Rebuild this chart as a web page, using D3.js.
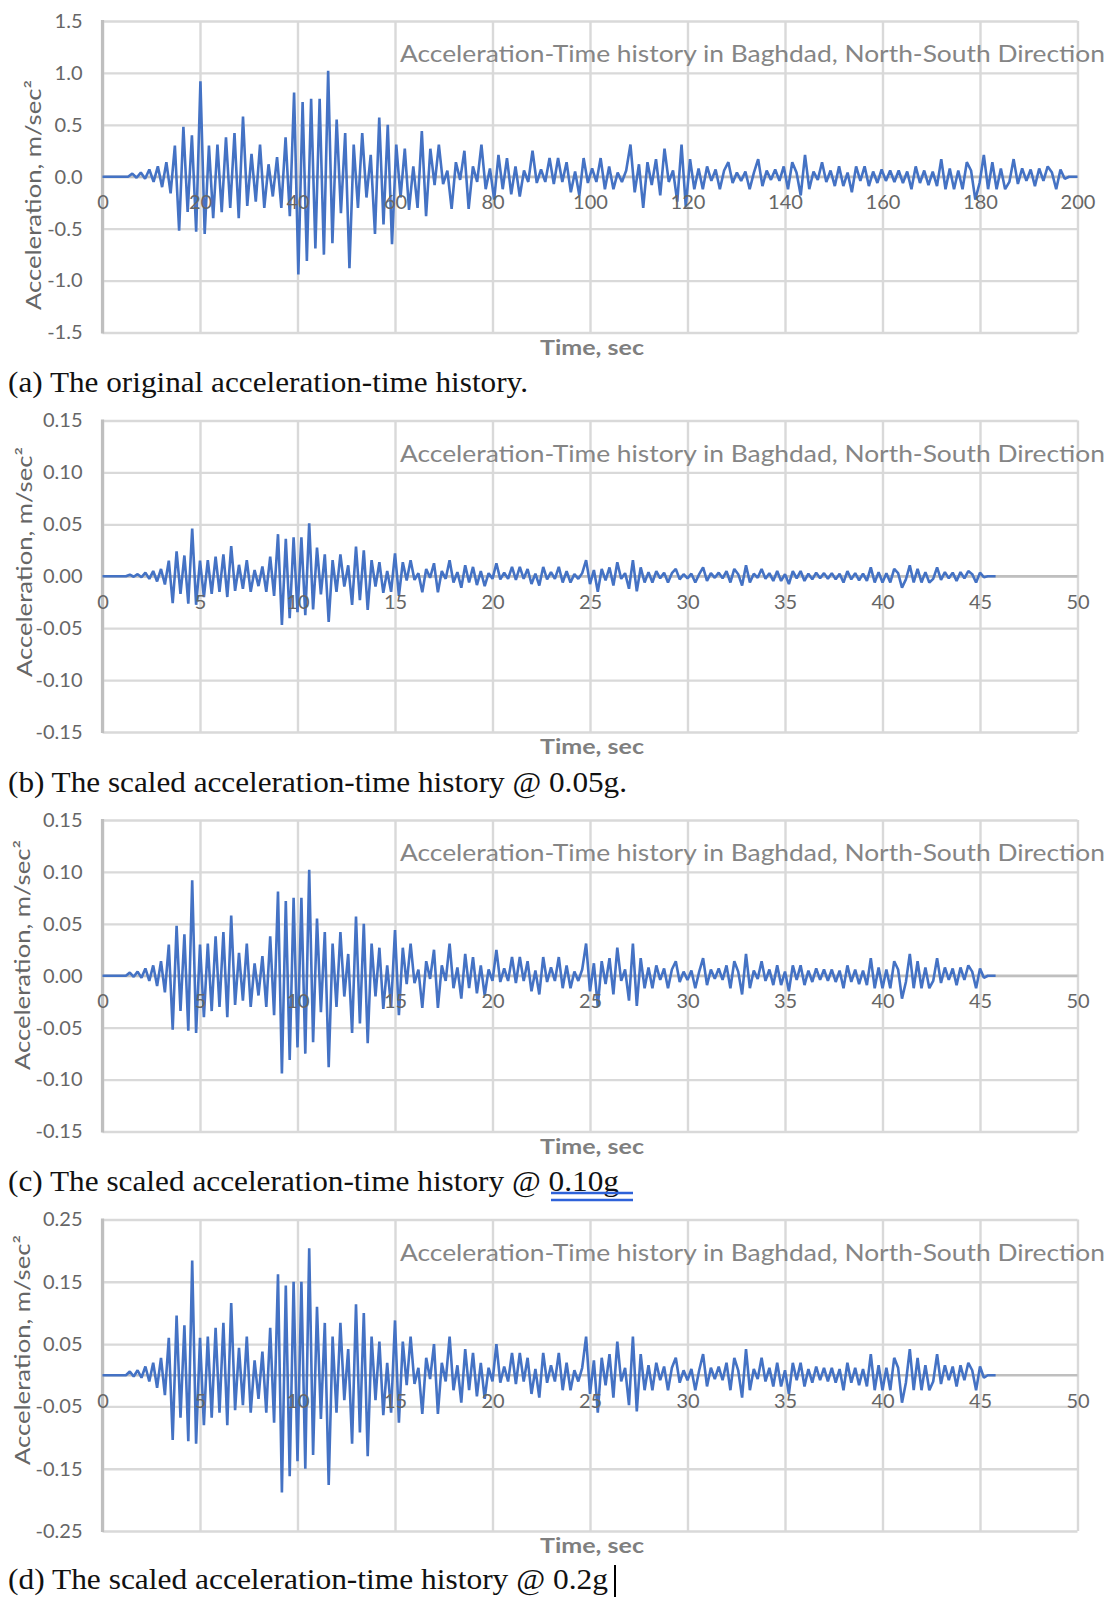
<!DOCTYPE html>
<html lang="en">
<head>
<meta charset="UTF-8">
<title>Acceleration-Time history in Baghdad</title>
<script src="https://cdnjs.cloudflare.com/ajax/libs/d3/7.8.5/d3.min.js"></script>
<style>
  body { margin: 0; background: #fff; }
  svg { display: block; }
</style>
</head>
<body>
<svg id="fig" width="1111" height="1598"></svg>
<script>
// sample interval of the scaled records (s); the original record is plotted over 0-200
const dtScaled = 0.2;
const dtOriginal = 200 / 229;

// (a) original record, m/sec2
const accOriginal = [
  0,0,0,0,0,0,0,0.03,-0.01,0.04,
  -0.02,0.07,-0.05,0.1,-0.1,0.14,-0.16,0.3,-0.52,0.48,
  -0.34,0.4,-0.53,0.92,-0.55,0.3,-0.4,0.31,-0.34,0.38,
  -0.3,0.42,-0.4,0.58,-0.28,0.22,-0.24,0.31,-0.3,0.12,
  -0.19,0.19,-0.3,0.38,-0.38,0.81,-0.94,0.72,-0.81,0.75,
  -0.69,0.75,-0.75,1.02,-0.64,0.55,-0.35,0.42,-0.88,0.31,
  -0.3,0.42,-0.2,0.21,-0.55,0.57,-0.46,0.5,-0.65,0.31,
  -0.2,0.27,-0.32,0.1,-0.3,0.44,-0.38,0.27,-0.08,0.31,
  -0.07,0.06,-0.31,0.14,-0.03,0.25,-0.31,0.1,-0.05,0.31,
  -0.12,0.08,-0.22,0.21,-0.12,0.18,-0.17,0.1,-0.19,0.06,
  -0.05,0.25,-0.06,0.07,-0.05,0.18,-0.07,0.18,-0.05,0.14,
  -0.15,0.05,-0.18,0.18,-0.06,0.08,-0.05,0.18,-0.12,0.1,
  -0.12,0.04,-0.05,0.06,0.31,-0.15,0.12,-0.3,0.14,-0.08,
  0.17,-0.18,0.27,-0.05,0.06,-0.24,0.31,-0.29,0.17,-0.12,
  0.08,-0.12,0.1,-0.04,0.07,-0.12,0.06,0.14,-0.06,0.04,
  -0.04,0.05,-0.12,0.04,0.17,-0.09,0.06,-0.03,0.07,-0.04,
  0.1,-0.12,0.14,0.04,-0.18,0.21,-0.12,0.05,-0.03,0.14,
  -0.05,0.06,-0.09,0.1,-0.09,0.04,-0.15,0.1,-0.04,0.1,
  -0.09,0.05,-0.06,0.07,-0.04,0.06,-0.05,0.06,-0.06,0.05,
  -0.12,0.1,-0.06,0.06,-0.08,0.05,-0.09,0.17,-0.12,0.08,
  -0.12,0.06,-0.12,0.14,0.06,-0.22,-0.06,0.21,-0.12,0.14,
  -0.12,0.08,-0.12,-0.05,0.17,-0.07,0.08,-0.04,0.07,-0.09,
  0.08,-0.04,0.1,0.04,-0.12,0.07,-0.02,0,0,0
];

// (b) scaled @ 0.05g
const acc005 = [
  0,0,0,0,0,0,0,0.0015,-0.0005,0.002,
  -0.001,0.0035,-0.0025,0.005,-0.005,0.007,-0.008,0.015,-0.026,0.024,
  -0.017,0.02,-0.0265,0.046,-0.0275,0.015,-0.02,0.0155,-0.017,0.019,
  -0.015,0.021,-0.02,0.029,-0.014,0.011,-0.012,0.0155,-0.015,0.006,
  -0.0095,0.0095,-0.015,0.019,-0.019,0.0405,-0.047,0.036,-0.0405,0.0375,
  -0.0345,0.0375,-0.0375,0.051,-0.032,0.0275,-0.0175,0.021,-0.044,0.0155,
  -0.015,0.021,-0.01,0.0105,-0.0275,0.0285,-0.023,0.025,-0.0325,0.0155,
  -0.01,0.0135,-0.016,0.005,-0.015,0.022,-0.019,0.0135,-0.004,0.0155,
  -0.0035,0.003,-0.0155,0.007,-0.0015,0.0125,-0.0155,0.005,-0.0025,0.0155,
  -0.006,0.004,-0.011,0.0105,-0.006,0.009,-0.0085,0.005,-0.0095,0.003,
  -0.0025,0.0125,-0.003,0.0035,-0.0025,0.009,-0.0035,0.009,-0.0025,0.007,
  -0.0075,0.0025,-0.009,0.009,-0.003,0.004,-0.0025,0.009,-0.006,0.005,
  -0.006,0.002,-0.0025,0.003,0.0155,-0.0075,0.006,-0.015,0.007,-0.004,
  0.0085,-0.009,0.0135,-0.0025,0.003,-0.012,0.0155,-0.0145,0.0085,-0.006,
  0.004,-0.006,0.005,-0.002,0.0035,-0.006,0.003,0.007,-0.003,0.002,
  -0.002,0.0025,-0.006,0.002,0.0085,-0.0045,0.003,-0.0015,0.0035,-0.002,
  0.005,-0.006,0.007,0.002,-0.009,0.0105,-0.006,0.0025,-0.0015,0.007,
  -0.0025,0.003,-0.0045,0.005,-0.0045,0.002,-0.0075,0.005,-0.002,0.005,
  -0.0045,0.0025,-0.003,0.0035,-0.002,0.003,-0.0025,0.003,-0.003,0.0025,
  -0.006,0.005,-0.003,0.003,-0.004,0.0025,-0.0045,0.0085,-0.006,0.004,
  -0.006,0.003,-0.006,0.007,0.003,-0.011,-0.003,0.0105,-0.006,0.007,
  -0.006,0.004,-0.006,-0.0025,0.0085,-0.0035,0.004,-0.002,0.0035,-0.0045,
  0.004,-0.002,0.005,0.002,-0.006,0.0035,-0.001,0,0,0
];

// (c) scaled @ 0.10g
const acc010 = [
  0,0,0,0,0,0,0,0.003,-0.001,0.004,
  -0.002,0.007,-0.005,0.01,-0.01,0.014,-0.016,0.03,-0.052,0.048,
  -0.034,0.04,-0.053,0.092,-0.055,0.03,-0.04,0.031,-0.034,0.038,
  -0.03,0.042,-0.04,0.058,-0.028,0.022,-0.024,0.031,-0.03,0.012,
  -0.019,0.019,-0.03,0.038,-0.038,0.081,-0.094,0.072,-0.081,0.075,
  -0.069,0.075,-0.075,0.102,-0.064,0.055,-0.035,0.042,-0.088,0.031,
  -0.03,0.042,-0.02,0.021,-0.055,0.057,-0.046,0.05,-0.065,0.031,
  -0.02,0.027,-0.032,0.01,-0.03,0.044,-0.038,0.027,-0.008,0.031,
  -0.007,0.006,-0.031,0.014,-0.003,0.025,-0.031,0.01,-0.005,0.031,
  -0.012,0.008,-0.022,0.021,-0.012,0.018,-0.017,0.01,-0.019,0.006,
  -0.005,0.025,-0.006,0.007,-0.005,0.018,-0.007,0.018,-0.005,0.014,
  -0.015,0.005,-0.018,0.018,-0.006,0.008,-0.005,0.018,-0.012,0.01,
  -0.012,0.004,-0.005,0.006,0.031,-0.015,0.012,-0.03,0.014,-0.008,
  0.017,-0.018,0.027,-0.005,0.006,-0.024,0.031,-0.029,0.017,-0.012,
  0.008,-0.012,0.01,-0.004,0.007,-0.012,0.006,0.014,-0.006,0.004,
  -0.004,0.005,-0.012,0.004,0.017,-0.009,0.006,-0.003,0.007,-0.004,
  0.01,-0.012,0.014,0.004,-0.018,0.021,-0.012,0.005,-0.003,0.014,
  -0.005,0.006,-0.009,0.01,-0.009,0.004,-0.015,0.01,-0.004,0.01,
  -0.009,0.005,-0.006,0.007,-0.004,0.006,-0.005,0.006,-0.006,0.005,
  -0.012,0.01,-0.006,0.006,-0.008,0.005,-0.009,0.017,-0.012,0.008,
  -0.012,0.006,-0.012,0.014,0.006,-0.022,-0.006,0.021,-0.012,0.014,
  -0.012,0.008,-0.012,-0.005,0.017,-0.007,0.008,-0.004,0.007,-0.009,
  0.008,-0.004,0.01,0.004,-0.012,0.007,-0.002,0,0,0
];

// (d) scaled @ 0.2g
const acc020 = [
  0,0,0,0,0,0,0,0.006,-0.002,0.008,
  -0.004,0.014,-0.01,0.02,-0.02,0.028,-0.032,0.06,-0.104,0.096,
  -0.068,0.08,-0.106,0.184,-0.11,0.06,-0.08,0.062,-0.068,0.076,
  -0.06,0.084,-0.08,0.116,-0.056,0.044,-0.048,0.062,-0.06,0.024,
  -0.038,0.038,-0.06,0.076,-0.076,0.162,-0.188,0.144,-0.162,0.15,
  -0.138,0.15,-0.15,0.204,-0.128,0.11,-0.07,0.084,-0.176,0.062,
  -0.06,0.084,-0.04,0.042,-0.11,0.114,-0.092,0.1,-0.13,0.062,
  -0.04,0.054,-0.064,0.02,-0.06,0.088,-0.076,0.054,-0.016,0.062,
  -0.014,0.012,-0.062,0.028,-0.006,0.05,-0.062,0.02,-0.01,0.062,
  -0.024,0.016,-0.044,0.042,-0.024,0.036,-0.034,0.02,-0.038,0.012,
  -0.01,0.05,-0.012,0.014,-0.01,0.036,-0.014,0.036,-0.01,0.028,
  -0.03,0.01,-0.036,0.036,-0.012,0.016,-0.01,0.036,-0.024,0.02,
  -0.024,0.008,-0.01,0.012,0.062,-0.03,0.024,-0.06,0.028,-0.016,
  0.034,-0.036,0.054,-0.01,0.012,-0.048,0.062,-0.058,0.034,-0.024,
  0.016,-0.024,0.02,-0.008,0.014,-0.024,0.012,0.028,-0.012,0.008,
  -0.008,0.01,-0.024,0.008,0.034,-0.018,0.012,-0.006,0.014,-0.008,
  0.02,-0.024,0.028,0.008,-0.036,0.042,-0.024,0.01,-0.006,0.028,
  -0.01,0.012,-0.018,0.02,-0.018,0.008,-0.03,0.02,-0.008,0.02,
  -0.018,0.01,-0.012,0.014,-0.008,0.012,-0.01,0.012,-0.012,0.01,
  -0.024,0.02,-0.012,0.012,-0.016,0.01,-0.018,0.034,-0.024,0.016,
  -0.024,0.012,-0.024,0.028,0.012,-0.044,-0.012,0.042,-0.024,0.028,
  -0.024,0.016,-0.024,-0.01,0.034,-0.014,0.016,-0.008,0.014,-0.018,
  0.016,-0.008,0.02,0.008,-0.024,0.014,-0.004,0,0,0
];

const xTicksOriginal = [0, 20, 40, 60, 80, 100, 120, 140, 160, 180, 200];
const xTicksScaled = [0, 5, 10, 15, 20, 25, 30, 35, 40, 45, 50];
const yTicksOriginal = [-1.5, -1.0, -0.5, 0, 0.5, 1.0, 1.5];
const yTicks015 = [-0.15, -0.10, -0.05, 0, 0.05, 0.10, 0.15];
const yTicks025 = [-0.25, -0.15, -0.05, 0.05, 0.15, 0.25];

const chartTitle = 'Acceleration-Time history in Baghdad, North-South Direction';
const yTitle = 'Acceleration, m/sec\u00b2';
const xTitle = 'Time, sec';
const captions = [
  '(a) The original acceleration-time history.',
  '(b) The scaled acceleration-time history @ 0.05g.',
  '(c) The scaled acceleration-time history @ 0.10g',
  '(d) The scaled acceleration-time history @ 0.2g'
];

// layout
const plotLeft = 102.5, plotRight = 1077.5, plotH = 311.5;
const blue = '#4472c4';
const loc = d3.formatLocale({ decimal: '.', thousands: ',', grouping: [3], currency: ['', ''], minus: '-' });

const panels = [
  { top: 21, values: accOriginal, dt: dtOriginal, xMax: 200, xTicks: xTicksOriginal,
    yMax: 1.5, yTicks: yTicksOriginal, fmt: '.1f', ytx: 32, yty: 195, capY: 392, capLen: 520, caption: captions[0] },
  { top: 420.5, values: acc005, dt: dtScaled, xMax: 50, xTicks: xTicksScaled,
    yMax: 0.15, yTicks: yTicks015, fmt: '.2f', ytx: 23, yty: 562, capY: 792, capLen: 619, caption: captions[1] },
  { top: 820, values: acc010, dt: dtScaled, xMax: 50, xTicks: xTicksScaled,
    yMax: 0.15, yTicks: yTicks015, fmt: '.2f', ytx: 21, yty: 955, capY: 1191, capLen: 611, caption: captions[2] },
  { top: 1219.5, values: acc020, dt: dtScaled, xMax: 50, xTicks: xTicksScaled,
    yMax: 0.25, yTicks: yTicks025, fmt: '.2f', ytx: 21, yty: 1350, capY: 1589, capLen: 600, caption: captions[3] }
];

const svg = d3.select('#fig');
svg.append('rect').attr('width', 1111).attr('height', 1598).attr('fill', '#fff');

function drawPanel(p) {
  const x = d3.scaleLinear().domain([0, p.xMax]).range([plotLeft, plotRight]);
  const y = d3.scaleLinear().domain([-p.yMax, p.yMax]).range([p.top + plotH, p.top]);
  const g = svg.append('g');

  // gridlines
  const hGrid = g.append('g')
    .attr('transform', `translate(${plotLeft},0)`)
    .call(d3.axisLeft(y).tickValues(p.yTicks).tickSize(-(plotRight - plotLeft)).tickFormat(''));
  const vGrid = g.append('g')
    .attr('transform', `translate(0,${p.top + plotH})`)
    .call(d3.axisBottom(x).tickValues(p.xTicks).tickSizeInner(-plotH).tickSizeOuter(0).tickFormat(''));
  [hGrid, vGrid].forEach(a => {
    a.select('.domain').remove();
    a.selectAll('line').attr('stroke', '#d9d9d9').attr('stroke-width', 2.4);
  });

  // axis lines
  g.append('line')
    .attr('x1', plotLeft).attr('x2', plotLeft)
    .attr('y1', p.top - 1).attr('y2', p.top + plotH + 1)
    .attr('stroke', '#bfbfbf').attr('stroke-width', 3.2);
  g.append('line')
    .attr('x1', plotLeft).attr('x2', plotRight)
    .attr('y1', y(0)).attr('y2', y(0))
    .attr('stroke', '#bfbfbf').attr('stroke-width', 2.6);

  // record
  const line = d3.line().x((d, i) => x(i * p.dt)).y(d => y(d));
  g.append('path').datum(p.values)
    .attr('d', line)
    .attr('fill', 'none')
    .attr('stroke', blue)
    .attr('stroke-width', 2.6)
    .attr('stroke-linejoin', 'bevel');

  // tick labels
  const xAx = g.append('g')
    .attr('transform', `translate(0,${y(0)})`)
    .call(d3.axisBottom(x).tickValues(p.xTicks).tickSize(0).tickFormat(d3.format('d')));
  xAx.select('.domain').remove();
  xAx.selectAll('text').attr('y', 25.5).attr('dy', '0.35em');

  const yAx = g.append('g')
    .attr('transform', `translate(${plotLeft},0)`)
    .call(d3.axisLeft(y).tickValues(p.yTicks).tickSize(0).tickPadding(20).tickFormat(loc.format(p.fmt)));
  yAx.select('.domain').remove();

  [xAx, yAx].forEach(a => {
    a.attr('font-family', 'Lato, "Open Sans", sans-serif').attr('font-size', 20);
    a.selectAll('text').attr('fill', '#666');
  });

  // chart title
  g.append('text')
    .attr('x', 400).attr('y', p.top + 41)
    .attr('font-family', 'Lato, "Open Sans", sans-serif')
    .attr('font-size', 23)
    .attr('fill', '#858585')
    .attr('textLength', 705).attr('lengthAdjust', 'spacingAndGlyphs')
    .text(chartTitle);

  // axis titles
  g.append('text')
    .attr('transform', `translate(${p.ytx},${p.yty}) rotate(-90)`)
    .attr('text-anchor', 'middle')
    .attr('dominant-baseline', 'central')
    .attr('font-family', 'Lato, "Open Sans", sans-serif')
    .attr('font-size', 21)
    .attr('fill', '#666')
    .attr('textLength', 230).attr('lengthAdjust', 'spacingAndGlyphs')
    .text(yTitle);

  g.append('text')
    .attr('x', 592).attr('y', p.top + plotH + 22)
    .attr('text-anchor', 'middle')
    .attr('font-family', 'Lato, "Open Sans", sans-serif')
    .attr('font-size', 20)
    .attr('font-weight', 'bold')
    .attr('fill', '#7f7f7f')
    .attr('textLength', 104).attr('lengthAdjust', 'spacingAndGlyphs')
    .text(xTitle);

  // caption below the chart
  svg.append('text')
    .attr('x', 8).attr('y', p.capY)
    .attr('font-family', '"Liberation Serif", "Times New Roman", serif')
    .attr('font-size', 29)
    .attr('fill', '#111')
    .attr('textLength', p.capLen).attr('lengthAdjust', 'spacingAndGlyphs')
    .text(p.caption);
}

panels.forEach(drawPanel);

// double underline under "0.10g" in caption (c)
[1193, 1200].forEach(yy => {
  svg.append('line')
    .attr('x1', 551).attr('x2', 633).attr('y1', yy).attr('y2', yy)
    .attr('stroke', '#2e62d9').attr('stroke-width', 2.6);
});

// text cursor after caption (d)
svg.append('line')
  .attr('x1', 615).attr('x2', 615).attr('y1', 1565).attr('y2', 1597)
  .attr('stroke', '#000').attr('stroke-width', 2);
</script>
</body>
</html>
